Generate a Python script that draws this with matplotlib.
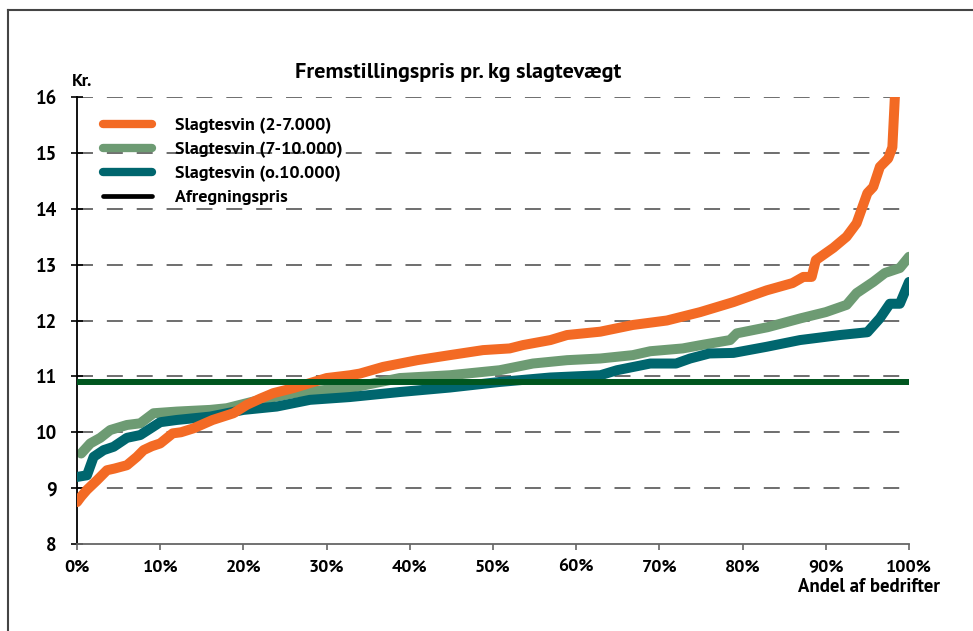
import matplotlib
matplotlib.use("Agg")
import matplotlib.pyplot as plt
from matplotlib.lines import Line2D
from matplotlib import font_manager as fm


def has_static_bold(name):
    return any(f.name == name and '[' not in f.fname and int(f.weight) >= 600 if str(f.weight).isdigit() else False
               for f in fm.fontManager.ttflist)


candidates = ["PT Sans", "Fira Sans Condensed", "Lato", "DejaVu Sans"]
fam = next((c for c in candidates if has_static_bold(c)), "DejaVu Sans")
plt.rcParams['font.family'] = [fam, 'DejaVu Sans']
plt.rcParams['lines.scale_dashes'] = False
WEIGHT = "bold"

title = "Fremstillingspris pr. kg slagtevægt"
y_label = "Kr."
x_label = "Andel af bedrifter"
labels = ["Slagtesvin (2-7.000)", "Slagtesvin (7-10.000)", "Slagtesvin (o.10.000)", "Afregningspris"]

orange_x = [0, 0.5, 1.2, 2.4, 3.6, 4.5, 6, 7.2, 8, 9, 10, 11.5, 12.5, 14, 16.3, 18.8, 20.4, 22, 23.6,
            26, 28, 30, 32.8, 34, 36.8, 40.9, 44.8, 48.8, 52, 53.6, 56.9, 58.9, 62.9, 66.8, 70.9,
            74.9, 78.9, 82.9, 86, 87.3, 88.3, 88.8, 90.9, 92.5, 93.7, 95, 95.7, 96.5, 97.5, 98, 98.3, 98.7]
orange_y = [8.75, 8.85, 8.97, 9.14, 9.32, 9.35, 9.41, 9.56, 9.68, 9.75, 9.8, 9.98, 10.0, 10.07, 10.22,
            10.34, 10.49, 10.6, 10.7, 10.79, 10.88, 10.97, 11.02, 11.05, 11.17, 11.29, 11.38, 11.47,
            11.5, 11.56, 11.65, 11.74, 11.8, 11.92, 12.0, 12.15, 12.33, 12.54, 12.67, 12.78, 12.78,
            13.08, 13.3, 13.5, 13.74, 14.28, 14.39, 14.75, 14.9, 15.1, 16.0, 16.5]

green_x = [0.5, 1.6, 2.8, 4, 6, 7.6, 9.2, 12, 16, 18, 22, 26, 30, 32.8, 38.8, 44.8, 50.8, 54.8, 58.9,
           62.9, 66.8, 68.9, 72.8, 75, 78.5, 79.3, 83, 87, 90, 92.5, 93.7, 95.7, 97.1, 98.9, 100]
green_y = [9.62, 9.8, 9.9, 10.04, 10.13, 10.16, 10.34, 10.37, 10.4, 10.43, 10.58, 10.7, 10.76, 10.79,
           10.97, 11.02, 11.11, 11.23, 11.29, 11.32, 11.38, 11.45, 11.5, 11.56, 11.65, 11.77, 11.88,
           12.04, 12.15, 12.28, 12.49, 12.69, 12.85, 12.94, 13.14]

teal_x = [0, 1.2, 2, 3.2, 4.4, 6, 7.6, 10, 12, 16, 20, 24, 28, 32.8, 38.8, 44.8, 50.8, 56.9, 62.9,
          64.9, 68.9, 72, 73.7, 76, 78.9, 82.9, 86.9, 91.7, 95, 96.5, 97.7, 98.9, 100]
teal_y = [9.2, 9.23, 9.56, 9.68, 9.74, 9.9, 9.95, 10.18, 10.22, 10.28, 10.4, 10.46, 10.58, 10.63,
          10.72, 10.8, 10.9, 10.98, 11.02, 11.11, 11.23, 11.23, 11.32, 11.41, 11.42, 11.53, 11.65,
          11.74, 11.79, 12.04, 12.3, 12.3, 12.69]

price_x = [0, 100]
price_y = [10.9, 10.9]

x_ticks = [0, 10, 20, 30, 40, 50, 60, 70, 80, 90, 100]
x_ticklabels = ["0%", "10%", "20%", "30%", "40%", "50%", "60%", "70%", "80%", "90%", "100%"]
y_ticks = [8, 9, 10, 11, 12, 13, 14, 15, 16]

c_orange = "#F36A24"
c_green = "#6D9B73"
c_teal = "#00666E"
c_price = "#00561F"

fig = plt.figure(figsize=(9.73, 6.31), dpi=100)
ax = fig.add_axes([77/973, 1-544/631, (909-77)/973, (544-97)/631])

for yv in y_ticks[1:]:
    ax.axhline(yv, color="#555555", lw=1.2, dashes=(11.5, 10), zorder=1)

ax.plot(price_x, price_y, color=c_price, lw=4.3, solid_capstyle='butt', zorder=5)
ax.plot(teal_x, teal_y, color=c_teal, lw=7.2, solid_capstyle='round', solid_joinstyle='round', zorder=3)
ax.plot(green_x, green_y, color=c_green, lw=7.2, solid_capstyle='round', solid_joinstyle='round', zorder=2)
ax.plot(orange_x, orange_y, color=c_orange, lw=7.2, solid_capstyle='round', solid_joinstyle='round', zorder=4)

ax.set_xlim(0, 100)
ax.set_ylim(8, 16)
ax.set_xticks(x_ticks)
ax.set_xticklabels(x_ticklabels)
ax.set_yticks(y_ticks)
for s in ["top", "right"]:
    ax.spines[s].set_visible(False)
ax.spines["left"].set_color("black")
ax.spines["left"].set_linewidth(1.3)
ax.spines["bottom"].set_color("#666666")
ax.spines["bottom"].set_linewidth(1.3)
ax.tick_params(axis="y", direction="inout", length=9, width=1.2, labelsize=13.5, pad=10, labelcolor="black")
ax.tick_params(axis="x", direction="out", length=4, width=1.2, color="#666666", labelcolor="black",
               labelsize=13, pad=7)
for lab in ax.get_xticklabels() + ax.get_yticklabels():
    lab.set_fontweight(WEIGHT)

fig.text(458/973, 1-73/631, title, ha="center", va="center", fontsize=16, fontweight=WEIGHT)
fig.text(72/973, 1-81/631, y_label, ha="left", va="center", fontsize=13, fontweight=WEIGHT)
fig.text(940/973, 1-587/631, x_label, ha="right", va="center", fontsize=13.5, fontweight=WEIGHT)

handles = [Line2D([], [], color=c_orange, lw=6, solid_capstyle='round'),
           Line2D([], [], color=c_green, lw=6, solid_capstyle='round'),
           Line2D([], [], color=c_teal, lw=6, solid_capstyle='round'),
           Line2D([], [], color="black", lw=3.4, solid_capstyle='round')]
leg = ax.legend(handles, labels, loc="upper left", bbox_to_anchor=(19/832, 1-13/447), frameon=False,
                fontsize=13, handlelength=2.7, handletextpad=1.25, labelspacing=0.42, borderaxespad=0)
for t in leg.get_texts():
    t.set_fontweight(WEIGHT)

# outer frame
fig.add_artist(Line2D([8/973, 1], [1-10/631, 1-10/631], color="#444444", lw=1.5, transform=fig.transFigure))
fig.add_artist(Line2D([8/973, 8/973], [0, 1-10/631], color="#444444", lw=1.5, transform=fig.transFigure))

fig.savefig("out.png", dpi=100)
